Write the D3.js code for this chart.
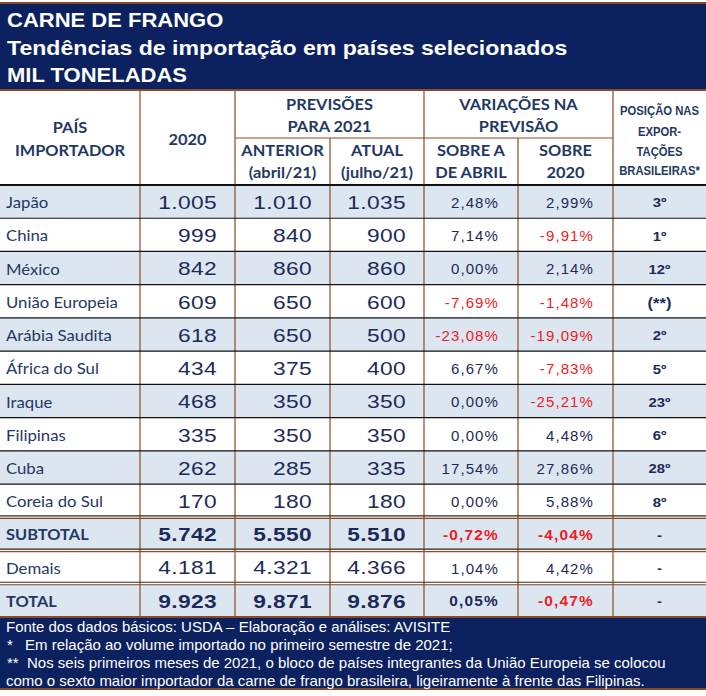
<!DOCTYPE html>
<html><head><meta charset="utf-8">
<script src="https://cdn.jsdelivr.net/npm/d3@7"></script>
<style>body{margin:0;background:#fff}svg{display:block}</style>
</head><body><svg id="c" width="706" height="696"></svg>
<script>
// ---------- DATA ----------
const countries = ["Japão","China","México","União Europeia","Arábia Saudita","África do Sul","Iraque","Filipinas","Cuba","Coreia do Sul","SUBTOTAL","Demais","TOTAL"];
const v2020    = [1005, 999, 842, 609, 618, 434, 468, 335, 262, 170, 5742, 4181, 9923];
const anterior = [1010, 840, 860, 650, 650, 375, 350, 350, 285, 180, 5550, 4321, 9871];
const atual    = [1035, 900, 860, 600, 500, 400, 350, 350, 335, 180, 5510, 4366, 9876];
const varAbril = [2.48, 7.14, 0.00, -7.69, -23.08, 6.67, 0.00, 0.00, 17.54, 0.00, -0.72, 1.04, 0.05];
const var2020  = [2.99, -9.91, 2.14, -1.48, -19.09, -7.83, -25.21, 4.48, 27.86, 5.88, -4.04, 4.42, -0.47];
const posicao  = ["3º","1º","12º","(**)","2º","5º","23º","6º","28º","8º","-","-","-"];
const boldRows = ["SUBTOTAL","TOTAL"];
const titleLines = ["CARNE DE FRANGO","Tendências de importação em países selecionados","MIL TONELADAS"];
const footerMarks = ["", "*", "**", ""];
const footerLines = [
  "Fonte dos dados básicos: USDA – Elaboração e análises: AVISITE",
  "Em relação ao volume importado no primeiro semestre de 2021;",
  "Nos seis primeiros meses de 2021, o bloco de países integrantes da União Europeia se colocou",
  "como o sexto maior importador da carne de frango brasileira, ligeiramente à frente das Filipinas."
];
const headPais = ["PAÍS","IMPORTADOR"];
const head2020 = ["2020"];
const headPrev = ["PREVISÕES","PARA 2021"];
const headAnt = ["ANTERIOR","(abril/21)"];
const headAtu = ["ATUAL","(julho/21)"];
const headVar = ["VARIAÇÕES NA","PREVISÃO"];
const headSobA = ["SOBRE A","DE ABRIL"];
const headSob20 = ["SOBRE","2020"];
const headPos = ["POSIÇÃO NAS","EXPOR-","TAÇÕES","BRASILEIRAS*"];

// ---------- STYLE / LAYOUT ----------
const NAVY = "#0c215f", BROWN = "#8b4a26", LIGHT = "#dce6f1", TXT = "#1f3864", NUM = "#1c2a5a", RED = "#ee1c25";
const colKeys = ["pais","y2020","ant","atu","vA","v20","pos"];
const colEdges = [0,140,235,330,424,518,613,706];
const xL = d3.scaleOrdinal().domain(colKeys).range(colEdges.slice(0,7));
const xR = d3.scaleOrdinal().domain(colKeys).range(colEdges.slice(1));
const xC = k => (xL(k)+xR(k))/2;
const y = d3.scaleBand().domain(countries).range([185,617]);

const loc = d3.formatLocale({decimal:",", thousands:".", grouping:[3], currency:["",""], minus:"-"});
const fmtN = loc.format(",d");
const fmtP = v => loc.format(".2f")(v) + "%";

const svg = d3.select("#c");

function T(g, x, yy, s, o) {
  return g.append("text")
    .attr("transform", `translate(${x},${yy}) scale(${o.sx||1},1)`)
    .attr("text-anchor", o.anchor || "start")
    .attr("dy", "0.36em")
    .style("font-family", o.font || "'Liberation Sans', Arial, sans-serif")
    .style("font-size", (o.size||14) + "px")
    .style("font-weight", o.bold ? "bold" : "normal")
    .style("letter-spacing", (o.ls||0) + "px")
    .attr("fill", o.fill || TXT)
    .text(s);
}
function line(x1,y1,x2,y2,c,w){svg.append("line").attr("x1",x1).attr("y1",y1).attr("x2",x2).attr("y2",y2).attr("stroke",c).attr("stroke-width",w);}

// ---------- TITLE BAND ----------
svg.append("rect").attr("x",0).attr("y",4).attr("width",706).attr("height",86).attr("fill",NAVY);
line(0,3,706,3,BROWN,2);
line(0,90,706,90,BROWN,2);
const titleY = d3.scalePoint().domain(titleLines).range([20,75]);
titleLines.forEach(t => T(svg, 7, titleY(t), t, {size:20, bold:true, fill:"#fff", sx: /[a-z]/.test(t) ? 1.155 : 1.1}));

// ---------- HEADER ----------
const H = {font:"Lato, 'Open Sans', sans-serif", size:14.5, bold:true, sx:1.13, anchor:"middle", fill:TXT};
function stack(lines, cx, ys, o){ lines.forEach((l,i)=>T(svg, cx, ys[i], l, o)); }
stack(headPais, xC("pais"), [128,151], H);
stack(head2020, xC("y2020"), [140], H);
stack(headPrev, (xL("ant")+xR("atu"))/2, [105,127], H);
stack(headAnt, xC("ant"), [151,173], H);
stack(headAtu, xC("atu"), [151,173], H);
stack(headVar, (xL("vA")+xR("v20"))/2, [105,127], H);
stack(headSobA, xC("vA"), [151,173], H);
stack(headSob20, xC("v20"), [151,173], H);
stack(headPos, xC("pos"), [111,132,152,171], {size:12, bold:true, sx:0.94, anchor:"middle", fill:TXT});

// ---------- ROWS ----------
const rows = svg.append("g");
countries.forEach((c,i) => {
  rows.append("rect").attr("x",0).attr("y",y(c)).attr("width",706).attr("height",y.bandwidth())
    .attr("fill", i%2===0 ? LIGHT : "#fff");
});
countries.forEach((c,i) => {
  const cy = y(c) + y.bandwidth()/2 + 1;
  const b = boldRows.includes(c);
  if (b) T(rows, 6, cy, c, {font:"Lato, sans-serif", size:14.5, bold:true, sx:1.13, fill:TXT});
  else   T(rows, 6, cy, c, {font:"Lato, sans-serif", size:15.5, sx:1.08, fill:TXT});
  [["y2020",v2020],["ant",anterior],["atu",atual]].forEach(([k,arr]) => {
    T(rows, xR(k)-18, cy, fmtN(arr[i]), {size:17.5, bold:b, sx:1.3, ls:0.3, anchor:"end", fill:NUM});
  });
  [["vA",varAbril],["v20",var2020]].forEach(([k,arr]) => {
    const v = arr[i];
    T(rows, xR(k)-19, cy, fmtP(v), {size: b?14:15, bold:b, sx: b?1.1:1.0, ls:1.1, anchor:"end", fill: v<0 ? RED : NUM});
  });
  const p = posicao[i];
  T(rows, xC("pos"), cy, p, {size: p.startsWith("(") ? 15 : 13.5, bold:true, sx:1.1, anchor:"middle", fill:NUM});
});

// ---------- GRID ----------
[140,235,424,613].forEach(xx => line(xx,91,xx,185,BROWN,1.2));
[330,518].forEach(xx => line(xx,138,xx,185,BROWN,1.2));
line(235,138,613,138,BROWN,1.2);
colEdges.slice(1,7).forEach(xx => line(xx,185,xx,617,BROWN,1.2));
countries.slice(1).forEach(c => {
  const yy = y(c);
  const dbl = ["SUBTOTAL","Demais","TOTAL"].includes(c);
  if (dbl) { line(0,yy-1.5,706,yy-1.5,"#3a2416",1.2); line(0,yy+1,706,yy+1,BROWN,1.2); }
  else line(0,yy,706,yy,"#111",1.2);
});
line(0,185,706,185,"#111",2);

// ---------- FOOTER ----------
svg.append("rect").attr("x",0).attr("y",617).attr("width",706).attr("height",71).attr("fill",NAVY);
line(0,617,706,617,BROWN,2);
line(0,689,706,689,BROWN,2);
const fy = d3.scalePoint().domain(footerLines).range([627,681]);
footerLines.forEach((t,i) => {
  const m = footerMarks[i];
  if (m) T(svg, 7, fy(t), m, {size:15, fill:"#fff"});
  T(svg, m ? (m.length===1 ? 25 : 27) : 6, fy(t), t, {size:15, sx: 1.0, fill:"#fff"});
});
</script></body></html>
